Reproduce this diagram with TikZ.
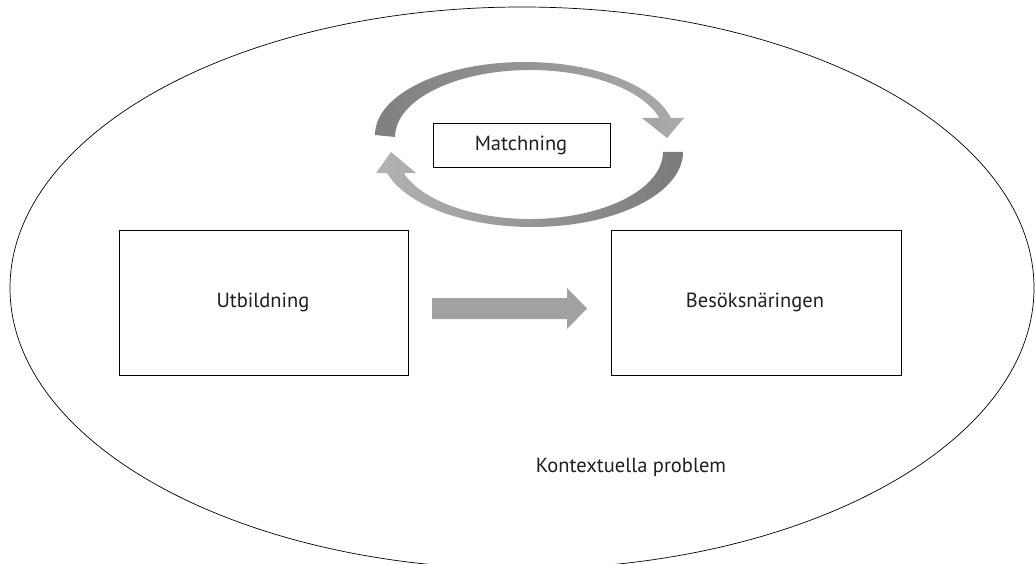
\documentclass[tikz,border=0pt]{standalone}
\usepackage{fontspec}
\setmainfont{PT Sans}
\usetikzlibrary{calc,shapes.geometric}
\begin{document}
\begin{tikzpicture}[x=1pt,y=-1pt,
  box/.style={draw=black,line width=0.8pt,fill=white,inner sep=0pt},
  lbl/.style={font=\fontsize{20.5}{24}\selectfont,text=black!88}]
\useasboundingbox (0,0) rectangle (1035,564);
\begin{scope}
\clip (0,0) rectangle (1035,564);
\node[draw=black,line width=0.7pt,ellipse,minimum width=1024pt,minimum height=562pt,inner sep=0pt] (ctx) at (522,288) {};
\end{scope}
% boxes
\node[box,minimum width=289pt,minimum height=145pt] (utb) at (263.5,302.5) {};
\node[lbl] (utbt) at (263,302) {Utbildning};
\node[box,minimum width=290pt,minimum height=145pt] (bes) at (756,302.5) {};
\node[lbl] (best) at (755,302) {Besöksnäringen};
\node[box,minimum width=177pt,minimum height=44pt] (mat) at (521.5,145) {};
\node[lbl] (matt) at (521,145) {Matchning};
\node[lbl] (kon) at (631,467) {Kontextuella problem};
% straight arrow
\fill[black!37] (432,298) -- (567,298) -- (567,288) -- (587,308.5) -- (567,329) -- (567,319) -- (432,319) -- cycle;
% upper curved arrow
\coordinate (uo) at (525,135);
\coordinate (ui) at (530,137);
\shade[left color=black!50,right color=black!33]
  ($(uo)+(180:150 and 73)$) arc[start angle=180,end angle=346.5,x radius=150,y radius=73]
  -- (684,118) -- (667,138) -- (642,118)
  -- ($(ui)+(343.5:135 and 67)$) arc[start angle=343.5,end angle=180,x radius=135,y radius=67] -- cycle;
% lower curved arrow
\coordinate (lo) at (532,152);
\coordinate (li) at (530,152);
\shade[left color=black!30,right color=black!52]
  ($(lo)+(0:151 and 75)$) arc[start angle=0,end angle=163.7,x radius=151,y radius=75]
  -- (376,173) -- (391,152) -- (416,173)
  -- ($(li)+(161.7:133 and 67)$) arc[start angle=161.7,end angle=0,x radius=133,y radius=67] -- cycle;
\end{tikzpicture}
\end{document}
